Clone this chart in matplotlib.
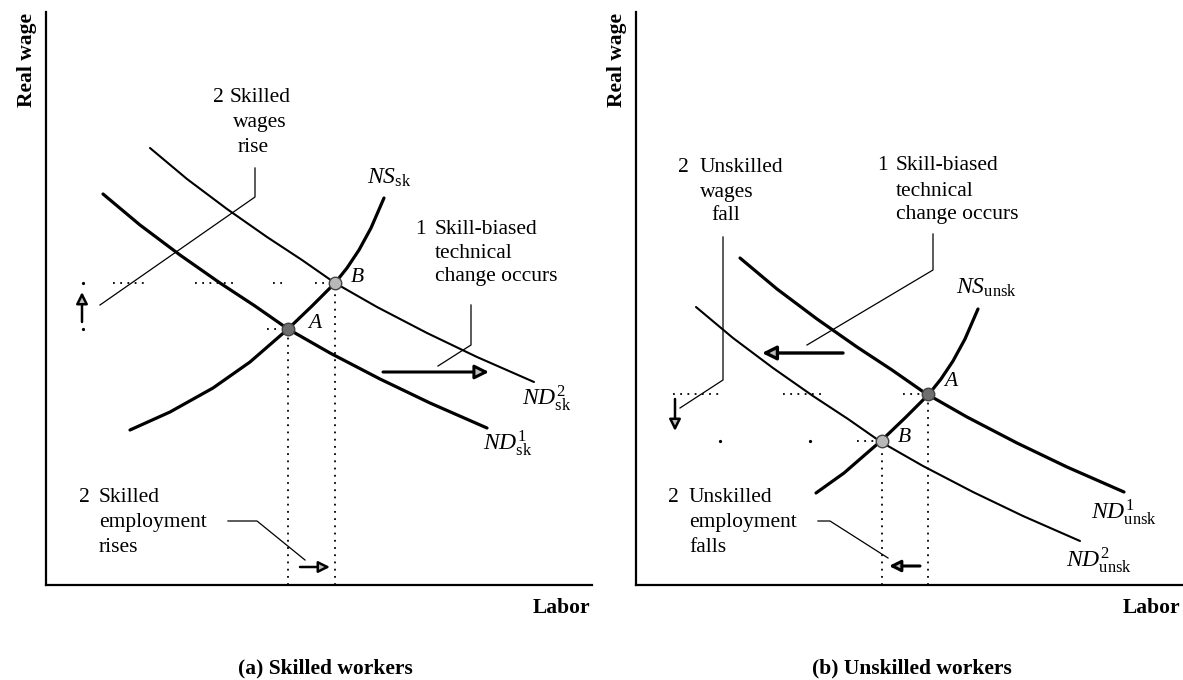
import matplotlib
matplotlib.use("Agg")
import matplotlib.pyplot as plt

plt.rcParams['font.family'] = ['Liberation Serif', 'DejaVu Serif']
plt.rcParams['mathtext.fontset'] = 'custom'
plt.rcParams['mathtext.it'] = 'Liberation Serif:italic'
plt.rcParams['mathtext.rm'] = 'Liberation Serif'

# ---------------- data: panel (a) skilled workers ----------------
sk_nd1_x = [57, 94, 134, 174, 209, 242, 284, 334, 384, 441]
sk_nd1_y = [391, 360, 330, 302, 279, 256, 232, 206, 182, 157]
sk_nd2_x = [104, 141, 181, 221, 256, 289, 331, 381, 431, 488]
sk_nd2_y = [437, 406, 376, 348, 325, 302, 278, 252, 228, 203]
sk_ns_x = [84, 124, 167, 204, 242, 266, 289, 301, 313, 325, 338]
sk_ns_y = [155, 173, 197, 223, 256, 279, 302, 317, 335, 357, 387]
sk_A = (242, 256)
sk_B = (289, 302)
sk_wage_dots_B = [(67, 101), (149, 191), (227, 237), (269, 284)]
sk_wage_single_dots = [(37, 302), (37, 256)]
sk_wage_dots_A = [(221, 234)]

# ---------------- data: panel (b) unskilled workers ----------------
un_nd1_x = [104, 141, 181, 221, 256, 289, 331, 381, 431, 488]
un_nd1_y = [327, 296, 266, 238, 215, 192, 168, 142, 118, 93]
un_nd2_x = [60, 97, 137, 177, 212, 245, 287, 337, 387, 444]
un_nd2_y = [278, 247, 217, 189, 166, 143, 119, 93, 69, 44]
un_ns_x = [180, 208, 246, 270, 293, 305, 317, 329, 342]
un_ns_y = [92, 112, 145, 168, 191, 206, 224, 246, 276]
un_A = (292, 191)
un_B = (246, 144)
un_wage_dots_A = [(37, 86), (147, 189), (267, 292)]
un_wage_dots_B = [(221, 246)]
un_wage_single_dots = [(84, 144), (174, 144)]

X_MAX, Y_MAX = 546, 573

W, H = 1183, 680
fig = plt.figure(figsize=(W / 100, H / 100), dpi=100)
fig.patch.set_facecolor('white')


def make_axes(left_px):
    ax = fig.add_axes([left_px / W, (H - 585) / H, 546 / W, 573 / H])
    ax.set_xlim(0, X_MAX)
    ax.set_ylim(0, Y_MAX)
    for s in ('top', 'right'):
        ax.spines[s].set_visible(False)
    for s in ('left', 'bottom'):
        ax.spines[s].set_linewidth(1.6)
    ax.set_xticks([])
    ax.set_yticks([])
    ax.patch.set_alpha(0)
    return ax


FS = 15.5
BOLD = 15.5
MATH = 17
DOT = (0, (1, 3))


def leader(ax, xs, ys):
    ax.plot(xs, ys, color='black', lw=0.9, clip_on=False)


def arrow(ax, tail, tip, lw=2.2, scale=20):
    ax.annotate('', xy=tip, xytext=tail,
                arrowprops=dict(arrowstyle='-|>', lw=lw, color='black',
                                fc='#bdbdbd', ec='black',
                                mutation_scale=scale, shrinkA=0, shrinkB=0))


def point(ax, p, fc):
    ax.plot([p[0]], [p[1]], 'o', ms=9, mfc=fc, mec='#444444', mew=1.0,
            zorder=5, clip_on=False)


def hdots(ax, segs, y):
    for a, b in segs:
        ax.plot([a, b], [y, y], color='black', lw=1.3, ls=DOT,
                clip_on=False)


# ================= panel (a) =================
ax = make_axes(46)
ax.plot(sk_nd1_x, sk_nd1_y, color='black', lw=2.3, solid_capstyle='round')
ax.plot(sk_nd2_x, sk_nd2_y, color='black', lw=1.5, solid_capstyle='round')
ax.plot(sk_ns_x, sk_ns_y, color='black', lw=2.3, solid_capstyle='round')

hdots(ax, sk_wage_dots_B, sk_B[1])
hdots(ax, sk_wage_dots_A, sk_A[1])
for x, y in sk_wage_single_dots:
    ax.plot([x], [y], 'o', ms=1.3, color='black')
ax.plot([sk_A[0], sk_A[0]], [0, sk_A[1]], color='black', lw=1.3, ls=DOT)
ax.plot([sk_B[0], sk_B[0]], [0, sk_B[1]], color='black', lw=1.3, ls=DOT)

point(ax, sk_A, '#6e6e6e')
point(ax, sk_B, '#b8b8b8')

arrow(ax, (36, 263), (36, 293), lw=1.8, scale=17)
arrow(ax, (337, 213), (443, 213), lw=2.2, scale=21)
arrow(ax, (254, 18), (284, 18), lw=1.8, scale=17)

leader(ax, [209, 209, 54], [417, 388, 280])
leader(ax, [425, 425, 392], [280, 240, 219])
leader(ax, [182, 211, 259], [64, 64, 25])

ax.text(172, 487, '2', fontsize=FS, ha='center', va='center')
ax.text(184, 487, 'Skilled', fontsize=FS, ha='left', va='center')
ax.text(187, 462, 'wages', fontsize=FS, ha='left', va='center')
ax.text(192, 438, 'rise', fontsize=FS, ha='left', va='center')

ax.text(374, 356, '1', fontsize=FS, ha='center', va='center')
ax.text(389, 356, 'Skill-biased', fontsize=FS, ha='left', va='center')
ax.text(389, 332, 'technical', fontsize=FS, ha='left', va='center')
ax.text(389, 308, 'change occurs', fontsize=FS, ha='left', va='center')

ax.text(38, 87, '2', fontsize=FS, ha='center', va='center')
ax.text(53, 87, 'Skilled', fontsize=FS, ha='left', va='center')
ax.text(53, 62, 'employment', fontsize=FS, ha='left', va='center')
ax.text(53, 38, 'rises', fontsize=FS, ha='left', va='center')

ax.text(321, 407, r'$NS_{\mathrm{sk}}$', fontsize=MATH, ha='left', va='center')
ax.text(476, 187, r'$ND^{2}_{\mathrm{sk}}$', fontsize=MATH, ha='left', va='center')
ax.text(437, 142, r'$ND^{1}_{\mathrm{sk}}$', fontsize=MATH, ha='left', va='center')
ax.text(311, 308, 'B', fontsize=FS, style='italic', ha='center', va='center')
ax.text(269, 262, 'A', fontsize=FS, style='italic', ha='center', va='center')

ax.text(-19, 572, 'Real wage', rotation=90, fontsize=BOLD, fontweight='bold',
        ha='center', va='top')
ax.text(544, -23, 'Labor', fontsize=BOLD, fontweight='bold',
        ha='right', va='center')
ax.text(279, -83, '(a) Skilled workers', fontsize=BOLD, fontweight='bold',
        ha='center', va='center')

# ================= panel (b) =================
ax = make_axes(636)
ax.plot(un_nd1_x, un_nd1_y, color='black', lw=2.3, solid_capstyle='round')
ax.plot(un_nd2_x, un_nd2_y, color='black', lw=1.5, solid_capstyle='round')
ax.plot(un_ns_x, un_ns_y, color='black', lw=2.3, solid_capstyle='round')

hdots(ax, un_wage_dots_A, un_A[1])
hdots(ax, un_wage_dots_B, un_B[1])
for x, y in un_wage_single_dots:
    ax.plot([x], [y], 'o', ms=1.3, color='black')
ax.plot([un_A[0], un_A[0]], [0, un_A[1]], color='black', lw=1.3, ls=DOT)
ax.plot([un_B[0], un_B[0]], [0, un_B[1]], color='black', lw=1.3, ls=DOT)

point(ax, un_A, '#6e6e6e')
point(ax, un_B, '#b8b8b8')

arrow(ax, (39, 186), (39, 154), lw=1.8, scale=17)
arrow(ax, (207, 232), (126, 232), lw=2.4, scale=21)
arrow(ax, (284, 19), (253, 19), lw=2.2, scale=17)

leader(ax, [87, 87, 44], [348, 205, 177])
leader(ax, [297, 297, 171], [351, 315, 240])
leader(ax, [182, 194, 252], [64, 64, 27])

ax.text(47, 418, '2', fontsize=FS, ha='center', va='center')
ax.text(64, 418, 'Unskilled', fontsize=FS, ha='left', va='center')
ax.text(64, 393, 'wages', fontsize=FS, ha='left', va='center')
ax.text(75, 370, 'fall', fontsize=FS, ha='left', va='center')

ax.text(246, 419, '1', fontsize=FS, ha='center', va='center')
ax.text(260, 419, 'Skill-biased', fontsize=FS, ha='left', va='center')
ax.text(260, 394, 'technical', fontsize=FS, ha='left', va='center')
ax.text(260, 370, 'change occurs', fontsize=FS, ha='left', va='center')

ax.text(37, 87, '2', fontsize=FS, ha='center', va='center')
ax.text(53, 87, 'Unskilled', fontsize=FS, ha='left', va='center')
ax.text(53, 62, 'employment', fontsize=FS, ha='left', va='center')
ax.text(53, 38, 'falls', fontsize=FS, ha='left', va='center')

ax.text(320, 297, r'$NS_{\mathrm{unsk}}$', fontsize=MATH, ha='left', va='center')
ax.text(455, 73, r'$ND^{1}_{\mathrm{unsk}}$', fontsize=MATH, ha='left', va='center')
ax.text(430, 25, r'$ND^{2}_{\mathrm{unsk}}$', fontsize=MATH, ha='left', va='center')
ax.text(315, 203, 'A', fontsize=FS, style='italic', ha='center', va='center')
ax.text(268, 147, 'B', fontsize=FS, style='italic', ha='center', va='center')

ax.text(-19, 572, 'Real wage', rotation=90, fontsize=BOLD, fontweight='bold',
        ha='center', va='top')
ax.text(544, -23, 'Labor', fontsize=BOLD, fontweight='bold',
        ha='right', va='center')
ax.text(276, -83, '(b) Unskilled workers', fontsize=BOLD, fontweight='bold',
        ha='center', va='center')

fig.savefig('out.png', dpi=100, facecolor='white')
